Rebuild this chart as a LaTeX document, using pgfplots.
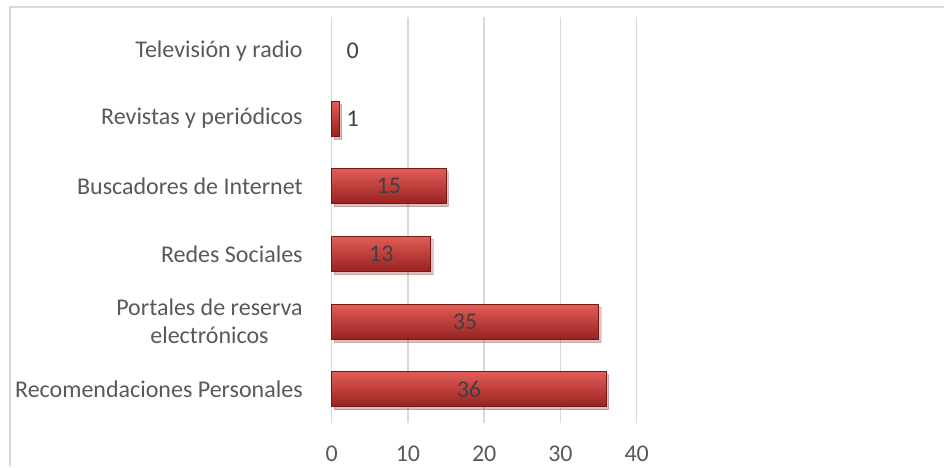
\documentclass[border=0pt]{standalone}
\usepackage{pgfplots}
\pgfplotsset{compat=1.18}
\usepackage{fontspec}
\setmainfont{Carlito}
\usetikzlibrary{shadows}
\definecolor{gridc}{RGB}{217,217,217}
\definecolor{labc}{RGB}{89,89,89}
\definecolor{datc}{RGB}{64,64,64}
\definecolor{bartop}{RGB}{228,92,88}
\definecolor{barmid}{RGB}{200,56,52}
\definecolor{barbot}{RGB}{150,34,32}
\definecolor{baredge}{RGB}{115,26,24}
\pgfplotsset{redbar/.style={xbar, bar width=17.5pt, bar shift=0pt,
  shade, top color=bartop, middle color=barmid, bottom color=barbot,
  draw=baredge, line width=0.4pt,
  drop shadow={shadow xshift=1.2pt, shadow yshift=-1.5pt, opacity=0.2}}}
\begin{document}
\begin{tikzpicture}
\useasboundingbox (0,0) rectangle (472pt,-233.5pt);
\draw[gridc, line width=0.6pt] (5pt,-233.5pt) -- (5pt,-3.5pt) -- (472pt,-3.5pt);
\begin{axis}[
  at={(165.85pt,-211.5pt)}, anchor=south west,
  scale only axis, width=152.5pt, height=203pt,
  xmin=0, xmax=40, ymin=-0.5, ymax=5.5,
  axis line style={draw=none},
  major tick length=0pt,
  xtick={0,10,20,30,40},
  ytick={0,1,2,3,4,5},
  yticklabels={Recomendaciones Personales,{Portales de reserva\\electrónicos},Redes Sociales,Buscadores de Internet,Revistas y periódicos,Televisión y radio},
  xmajorgrids, ymajorgrids=false,
  major grid style={gridc, line width=0.7pt},
  /pgf/number format/assume math mode=true,
  every tick label/.append style={font=\fontsize{12}{14}\selectfont, text=labc},
  yticklabel style={align=center, anchor=east, xshift=-11pt},
  xticklabel style={anchor=base, yshift=-19.3pt, inner sep=0pt},
  clip=false,
]
% values: Recomendaciones 36, Portales 35, Redes 13, Buscadores 15, Revistas 1, TV y radio 0 (no visible bar)
\addplot[redbar] coordinates {(36,0)};
\addplot[redbar] coordinates {(35,1)};
\addplot[redbar] coordinates {(13,2)};
\addplot[redbar] coordinates {(15,3)};
\addplot[redbar] coordinates {(1,4)};
\addplot[draw=none, nodes near coords, point meta=explicit symbolic,
  every node near coord/.style={anchor=center, font=\fontsize{12}{14}\selectfont, text=datc}]
  coordinates {(18,0) [36] (17.5,1) [35] (6.5,2) [13] (7.5,3) [15] (2.75,4) [1] (2.75,5) [0]};
\end{axis}
\end{tikzpicture}
\end{document}
